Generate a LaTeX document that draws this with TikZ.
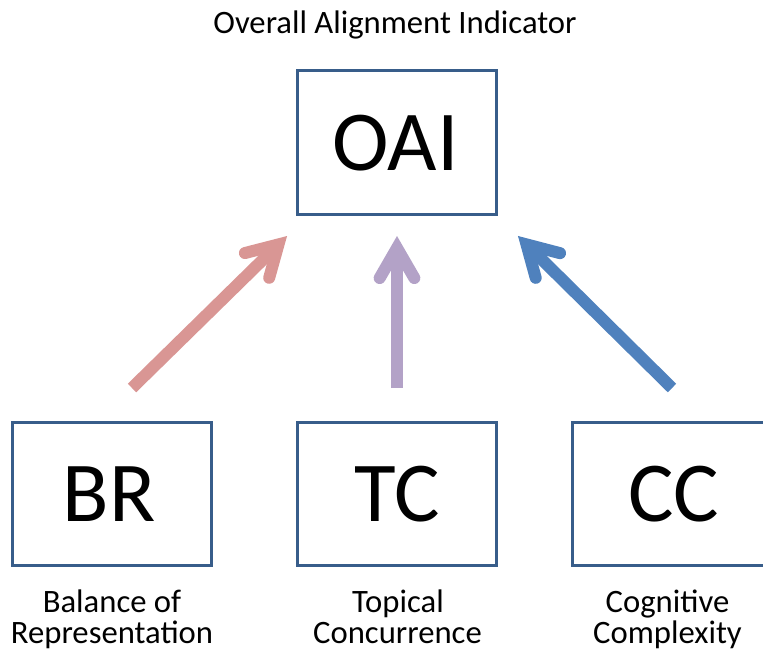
\documentclass[tikz,border=0pt]{standalone}
\usepackage{fontspec}
\setmainfont{Carlito}
\usetikzlibrary{calc}
\definecolor{boxblue}{HTML}{385D8A}
\definecolor{pinkc}{HTML}{D99694}
\definecolor{purplec}{HTML}{B3A2C7}
\definecolor{bluec}{HTML}{4F81BD}
\tikzset{
  box/.style={draw=boxblue, line width=2.25pt, fill=white},
  bigtxt/.style={anchor=base, font=\fontsize{64}{70}\selectfont, inner sep=0pt},
  lbl/.style={anchor=base, font=\fontsize{24.5}{24}\selectfont, inner sep=0pt, align=center},
  shaft/.style={line width=9pt, line cap=butt},
  barbs/.style={line width=9pt, line cap=round, line join=miter, miter limit=10},
}
\begin{document}
\begin{tikzpicture}[x=0.75pt, y=-0.75pt]
\useasboundingbox (0,0) rectangle (763,658);
\clip (0,0) rectangle (763,658);
% boxes
\draw[box] (297,70) rectangle (496,214);
\draw[box] (12,422) rectangle (211,565);
\draw[box] (297,422) rectangle (496,565);
\draw[box] (572,422) rectangle (771,565);
% box texts
\node[bigtxt] (oai) at (395.5,170) {OAI};
\node[bigtxt] (br) at (109,521) {BR};
\node[bigtxt] (tc) at (397,521) {TC};
\node[bigtxt] (cc) at (674,521) {CC};
% labels
\node[lbl] (top) at (395,33) {Overall Alignment Indicator};
\node[lbl] (brl1) at (112,612) {Balance of};
\node[lbl] (brl2) at (112,643) {Representation};
\node[lbl] (tcl1) at (398,612) {Topical};
\node[lbl] (tcl2) at (397.5,643) {Concurrence};
\node[lbl] (ccl1) at (667.5,612) {Cognitive};
\node[lbl] (ccl2) at (667.5,643) {Complexity};
% arrows
\coordinate (pS) at (132,388); \coordinate (pT) at (278.5,244.4);
\coordinate (uS) at (397,388); \coordinate (uT) at (397,248);
\coordinate (bS) at (672,388); \coordinate (bT) at (526.5,244.4);
\draw[shaft, pinkc] (pS) -- (pT);
\draw[barbs, pinkc] ($(pT)!26pt!30:(pS)$) -- (pT) -- ($(pT)!26pt!-30:(pS)$);
\draw[shaft, purplec] (uS) -- (uT);
\draw[barbs, purplec] ($(uT)!26pt!30:(uS)$) -- (uT) -- ($(uT)!26pt!-30:(uS)$);
\draw[shaft, bluec] (bS) -- (bT);
\draw[barbs, bluec] ($(bT)!26pt!30:(bS)$) -- (bT) -- ($(bT)!26pt!-30:(bS)$);
\end{tikzpicture}
\end{document}
